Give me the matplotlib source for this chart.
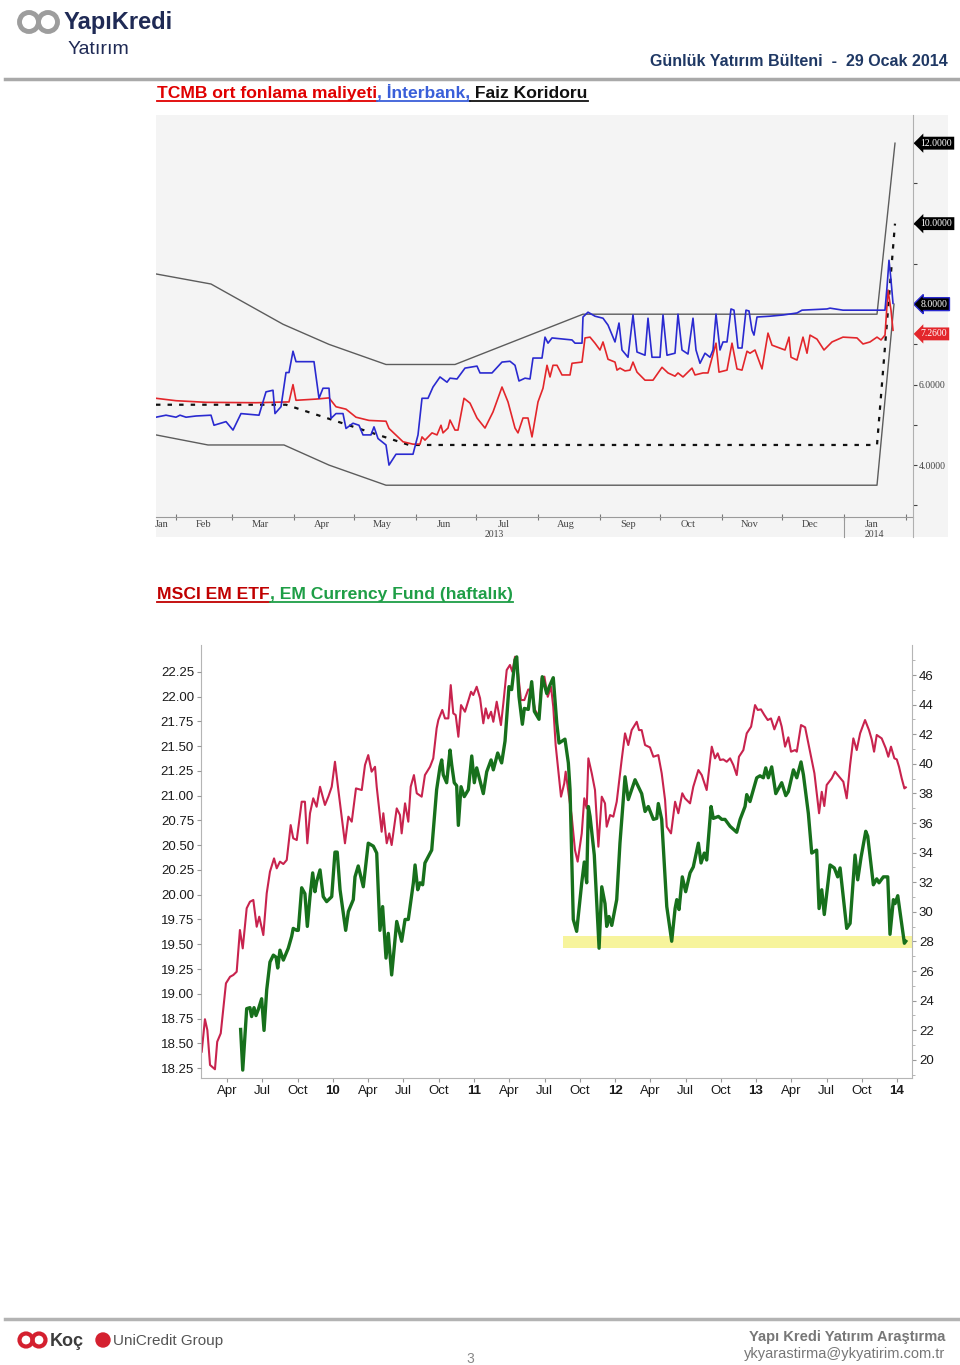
import numpy as np
import matplotlib
matplotlib.use("Agg")
import matplotlib.pyplot as plt
import matplotlib.dates as mdates
import matplotlib.transforms as mtransforms
from matplotlib import font_manager as fm
from matplotlib.lines import Line2D
from matplotlib.patches import Rectangle, Ellipse

plt.rcParams['font.family'] = ['Liberation Sans', 'DejaVu Sans']
_names = {f.name for f in fm.fontManager.ttflist}
NARROW = 'Liberation Sans Narrow' if 'Liberation Sans Narrow' in _names else 'Liberation Sans'

# ---------- top chart: TCMB rates, x = days since 1 Jan 2013, values in %
corr_hi_day = [21, 48.5, 84.5, 107.5, 136, 170.5, 234.5, 381.5, 390.5]
corr_hi = [8.75, 8.50, 7.50, 7.00, 6.50, 6.50, 7.75, 7.75, 12.00]
corr_lo_day = [21, 47, 85, 107.5, 136, 381.5, 390]
corr_lo = [4.75, 4.50, 4.50, 4.00, 3.50, 3.50, 8.00]
repo_day = [21, 86, 147.5, 381.5, 390.5]
repo = [5.50, 5.50, 4.50, 4.50, 10.00]

fund_day = [21, 31, 46, 71, 87.5, 89.5, 91, 101, 107.5, 111, 116, 121, 127.5, 136, 137.5,
            144.5, 149.5, 153, 154, 155.5, 159, 161.5, 163.5, 164.5, 167, 168, 170.5, 172,
            175, 178, 181.5, 185.5, 189.5, 194, 197, 200.5, 202, 204.5, 207, 209, 212, 214.5,
            216.5, 218, 219.5, 221.5, 224, 228, 229, 234, 235.5, 238, 240.5, 243, 244.5, 247,
            250.5, 251.5, 253, 255.5, 258, 259.5, 261.5, 265.5, 269.5, 274, 277, 280.5, 282,
            284.5, 289, 290.5, 294.5, 297, 301, 302.5, 306.5, 309, 311.5, 314, 316.5, 318,
            320.5, 324, 327, 329, 335.5, 337.5, 338.5, 341.5, 344.5, 346.5, 348, 351.5, 355,
            359, 364.5, 371.5, 374.5, 378, 381.5, 383.5, 385.5, 387, 388.5, 389.5]
fund = [5.66, 5.60, 5.56, 5.55, 5.57, 6.00, 5.61, 5.64, 5.67, 5.45, 5.39, 5.19, 5.11, 5.09, 4.91,
        4.58, 4.52, 4.52, 4.70, 4.62, 4.80, 4.75, 4.99, 4.80, 4.92, 5.12, 4.87, 4.87,
        5.66, 5.54, 5.17, 4.92, 5.32, 5.94, 5.57, 4.92, 4.80, 5.17, 5.17, 4.70, 5.57, 5.91,
        6.48, 6.19, 6.48, 6.48, 6.24, 6.24, 6.53, 6.56, 7.16, 7.18, 7.03, 6.86, 7.06, 6.63,
        6.56, 6.36, 6.41, 6.34, 6.36, 6.56, 6.31, 6.11, 6.11, 6.43, 6.29, 6.21, 6.29,
        6.19, 6.41, 6.24, 6.29, 6.29, 7.03, 6.31, 6.36, 7.03, 6.39, 6.36, 6.83, 6.78,
        6.86, 6.39, 7.28, 6.98, 6.86, 7.18, 6.68, 6.61, 7.18, 6.78, 7.23, 7.13, 6.86,
        7.06, 7.18, 7.16, 7.01, 7.06, 7.18, 7.11, 7.23, 8.35, 7.85, 7.35]

ib_day = [21, 26, 31, 33, 36, 41, 48.5, 50, 56, 59.5, 63.5, 72.5, 76, 79.5, 80.5, 83.5, 86, 87.5,
          89.5, 91, 100, 102.5, 104.5, 107.5, 108.5, 111, 114.5, 116, 119.5, 122.5, 124.5, 128.5,
          130, 132, 136, 137.5, 141, 149.5, 152, 154, 157, 159.5, 163, 166.5, 168, 171.5, 175.5,
          181.5, 183, 189, 194, 198, 200.5, 202.5, 205.5, 208, 209.5, 214, 215.5, 217, 219, 229,
          230.5, 234, 234.5, 237, 240.5, 244.5, 247, 250.5, 252.5, 254, 257, 259.5, 261.5, 265.5,
          267, 269, 273, 274.5, 276.5, 280.5, 282, 284, 287, 289.5, 291, 293, 295.5, 298, 299.5,
          301, 303, 304.5, 306.5, 308.5, 310, 312, 314, 316, 317.5, 319, 320, 321.5, 328, 334.5,
          341.5, 344, 356.5, 358, 364.5, 381.5, 385.5, 386.5, 387.5, 388.5, 389.5]
ib = [5.19, 5.24, 5.19, 5.24, 5.19, 5.22, 5.24, 4.99, 5.08, 4.87, 5.28, 5.24, 5.82, 5.86, 5.28,
      5.45, 6.30, 6.30, 6.83, 6.57, 6.57, 5.66, 5.91, 5.91, 5.16, 5.28, 5.28, 4.91, 5.04, 4.99,
      4.75, 4.75, 4.95, 4.66, 4.50, 4.00, 4.27, 4.27, 4.75, 5.66, 5.66, 5.94, 6.19, 6.06, 6.16,
      6.14, 6.41, 6.46, 6.29, 6.29, 6.56, 6.58, 6.48, 6.09, 6.16, 6.14, 6.66, 6.66, 7.18, 7.03,
      7.16, 7.11, 7.03, 7.03, 7.68, 7.80, 7.70, 7.65, 7.48, 7.06, 7.53, 6.86, 6.68, 7.73, 6.81,
      6.73, 7.65, 6.68, 6.68, 7.73, 6.73, 6.78, 7.75, 6.86, 6.76, 7.65, 6.86, 6.53, 6.78, 6.68,
      6.86, 7.75, 6.86, 7.06, 7.06, 7.88, 7.85, 6.91, 6.91, 7.85, 7.83, 7.35, 7.23, 7.68, 7.70,
      7.73, 7.78, 7.85, 7.88, 7.90, 7.85, 7.85, 7.85, 8.42, 9.09, 8.60, 8.02]

tag_values = [12.0, 10.0, 8.0, 7.26]
tag_colors = ['black', 'black', 'black', '#e3262b']
month_labels = ['Jan', 'Feb', 'Mar', 'Apr', 'May', 'Jun', 'Jul', 'Aug', 'Sep', 'Oct', 'Nov', 'Dec', 'Jan']

# ---------- bottom chart: weekly closes, x = decimal year
eem_t = [2009.069, 2009.092, 2009.109, 2009.128, 2009.163, 2009.179, 2009.204, 2009.241, 2009.270, 2009.293,
         2009.317, 2009.340, 2009.360, 2009.388, 2009.411, 2009.435, 2009.459, 2009.477, 2009.506, 2009.530,
         2009.553, 2009.582, 2009.601, 2009.624, 2009.648, 2009.672, 2009.700, 2009.718, 2009.743, 2009.778,
         2009.801, 2009.818, 2009.837, 2009.860, 2009.884, 2009.908, 2009.943, 2009.967, 2009.991, 2010.014,
         2010.038, 2010.069, 2010.085, 2010.109, 2010.133, 2010.163, 2010.204, 2010.227, 2010.250, 2010.274,
         2010.298, 2010.310, 2010.345, 2010.357, 2010.381, 2010.399, 2010.416, 2010.452, 2010.475, 2010.487,
         2010.511, 2010.534, 2010.551, 2010.574, 2010.594, 2010.629, 2010.652, 2010.688, 2010.711, 2010.735,
         2010.747, 2010.775, 2010.794, 2010.818, 2010.835, 2010.853, 2010.870, 2010.889, 2010.908, 2010.936,
         2010.979, 2010.995, 2011.019, 2011.043, 2011.066, 2011.083, 2011.101, 2011.121, 2011.137, 2011.161,
         2011.191, 2011.208, 2011.232, 2011.255, 2011.272, 2011.291, 2011.310, 2011.333, 2011.357, 2011.385,
         2011.409, 2011.433, 2011.461, 2011.480, 2011.499, 2011.523, 2011.546, 2011.562, 2011.579, 2011.617,
         2011.640, 2011.650, 2011.669, 2011.693, 2011.716, 2011.735, 2011.764, 2011.782, 2011.799, 2011.811,
         2011.835, 2011.858, 2011.882, 2011.906, 2011.929, 2011.941, 2011.965, 2011.988, 2012.012, 2012.047,
         2012.071, 2012.094, 2012.118, 2012.154, 2012.170, 2012.189, 2012.213, 2012.248, 2012.272, 2012.307,
         2012.331, 2012.355, 2012.367, 2012.397, 2012.426,
         2012.449, 2012.477, 2012.496, 2012.532, 2012.555, 2012.591, 2012.615, 2012.650, 2012.686, 2012.709,
         2012.728, 2012.745, 2012.768, 2012.792, 2012.816, 2012.839, 2012.863, 2012.879, 2012.910, 2012.934,
         2012.965, 2012.993, 2013.012, 2013.035, 2013.059, 2013.083, 2013.106, 2013.130, 2013.163, 2013.182,
         2013.206, 2013.229, 2013.248, 2013.277, 2013.289, 2013.319, 2013.348, 2013.371, 2013.414, 2013.447,
         2013.466, 2013.484, 2013.501, 2013.537, 2013.560, 2013.589, 2013.619, 2013.643, 2013.667, 2013.690,
         2013.714, 2013.738, 2013.773, 2013.801, 2013.820, 2013.837, 2013.856, 2013.891, 2013.920, 2013.938,
         2013.957, 2013.981, 2013.998, 2014.014, 2014.033, 2014.052, 2014.062]
eem = [20.55, 22.74, 22.01, 19.65, 19.36, 21.22, 21.79, 25.17, 25.61, 25.73,
       25.95, 28.77, 27.53, 30.24, 30.68, 30.80, 28.99, 29.67, 28.43, 31.25,
       32.71, 33.61, 32.94, 33.39, 33.23, 33.50, 35.86, 34.97, 34.85, 37.44,
       37.44, 34.63, 36.66, 37.67, 37.10, 38.45, 37.22, 37.78, 38.45, 40.14,
       38.23, 35.86, 34.63, 36.43, 36.09, 38.34, 38.23, 39.92, 40.59, 39.47,
       39.80, 38.45, 35.41, 36.66, 34.63, 35.30, 34.51, 36.99, 36.54, 35.30,
       37.33, 36.09, 38.45, 39.24, 38.01, 37.78, 39.24, 39.80, 40.37, 42.40,
       42.96, 43.64, 43.07, 43.07, 45.32, 43.41, 43.30, 41.83, 43.97, 43.52,
       44.87, 44.65, 45.21, 44.43, 42.74, 43.75, 43.07, 43.52, 42.84, 44.20,
       42.62, 44.09, 46.34, 46.68, 46.22, 47.24, 46.34, 44.31, 44.31, 45.03,
       44.87, 43.64, 43.18, 45.78, 45.89, 44.53, 45.21, 43.86, 41.27, 37.78,
       38.68, 39.47, 38.11, 36.43, 34.18, 33.39, 35.30, 37.67, 36.99, 40.37,
       39.36, 38.23, 34.40, 37.78, 37.33, 35.75, 36.54, 36.43, 37.44, 40.26,
       42.06, 41.27, 42.28, 42.84, 42.28, 42.28, 41.27, 41.11, 40.48, 40.59,
       39.36, 37.55, 35.75, 35.30, 37.44,
       36.66, 38.01, 37.67, 37.33, 38.45, 39.58, 39.24, 38.23, 41.16, 40.37,
       40.71, 40.26, 40.30, 40.14, 40.37, 39.92, 39.24, 40.48, 40.93, 42.06,
       42.51, 43.97, 43.64, 43.68, 43.30, 42.96, 43.07, 42.33, 43.18, 42.51,
       41.16, 41.79, 40.82, 40.93, 40.82, 42.62, 42.47, 41.39, 39.36, 36.66,
       38.11, 37.15, 38.57, 39.02, 39.47, 39.13, 38.79, 37.67, 39.92, 41.72,
       40.93, 42.06, 42.96, 42.28, 41.66, 40.82, 41.95, 41.72, 41.05, 40.48,
       41.16, 40.37, 40.30, 39.80, 39.02, 38.34, 38.41]

cew_t = [2009.345, 2009.360, 2009.388, 2009.411, 2009.423, 2009.440, 2009.454, 2009.470, 2009.494, 2009.511,
         2009.530, 2009.553, 2009.577, 2009.596, 2009.608, 2009.624, 2009.648, 2009.683, 2009.707, 2009.718,
         2009.743, 2009.754, 2009.778, 2009.801, 2009.818, 2009.837, 2009.856, 2009.872, 2009.884, 2009.908,
         2009.931, 2009.955, 2009.991, 2010.014, 2010.030, 2010.050, 2010.090, 2010.109, 2010.144, 2010.156,
         2010.179, 2010.215, 2010.250, 2010.286, 2010.310, 2010.333, 2010.352, 2010.376, 2010.392, 2010.416,
         2010.452, 2010.487, 2010.511, 2010.534, 2010.570, 2010.582, 2010.601, 2010.617, 2010.636, 2010.652,
         2010.700, 2010.735, 2010.759,
         2010.771, 2010.782, 2010.806, 2010.830, 2010.842, 2010.860, 2010.877, 2010.889, 2010.908, 2010.931,
         2010.960, 2010.984, 2011.002, 2011.019, 2011.066, 2011.090, 2011.121, 2011.137, 2011.168, 2011.196,
         2011.220, 2011.248, 2011.267, 2011.291, 2011.303, 2011.319, 2011.343, 2011.357, 2011.385, 2011.409,
         2011.428, 2011.461, 2011.484, 2011.516, 2011.534, 2011.562, 2011.587, 2011.603, 2011.645, 2011.669,
         2011.681, 2011.704, 2011.728, 2011.764, 2011.782, 2011.799, 2011.811, 2011.823, 2011.853, 2011.887,
         2011.906, 2011.929, 2011.941, 2011.957, 2011.977, 2012.012, 2012.035, 2012.071, 2012.094, 2012.142,
         2012.189, 2012.213, 2012.236, 2012.272, 2012.296, 2012.307, 2012.331, 2012.367, 2012.402, 2012.426,
         2012.438, 2012.454, 2012.477, 2012.501, 2012.532, 2012.555, 2012.591, 2012.610, 2012.633, 2012.650,
         2012.681, 2012.697, 2012.733, 2012.757, 2012.780, 2012.816, 2012.863, 2012.887, 2012.922, 2012.934,
         2012.957, 2013.005, 2013.028, 2013.052, 2013.069, 2013.087, 2013.111, 2013.140, 2013.182, 2013.211,
         2013.229, 2013.265, 2013.289, 2013.319, 2013.336, 2013.371, 2013.395, 2013.430, 2013.447, 2013.466,
         2013.484, 2013.525, 2013.555, 2013.579, 2013.596, 2013.643, 2013.667, 2013.702, 2013.721, 2013.745,
         2013.778, 2013.792, 2013.832, 2013.856, 2013.872, 2013.903, 2013.934, 2013.950, 2013.974, 2013.986,
         2014.005, 2014.052, 2014.062]
cew = [18.64, 18.23, 18.85, 18.86, 18.77, 18.86, 18.78, 18.84, 18.95, 18.63,
       19.04, 19.32, 19.39, 19.37, 19.26, 19.44, 19.34, 19.46, 19.58, 19.66,
       19.64, 19.64, 20.07, 20.01, 19.68, 19.98, 20.22, 20.03, 20.13, 20.25,
       19.98, 19.93, 19.98, 20.43, 20.43, 20.05, 19.64, 19.83, 19.95, 20.18,
       20.29, 20.08, 20.52, 20.49, 20.42, 19.64, 19.88, 19.36, 19.61, 19.19,
       19.73, 19.53, 19.75, 19.75, 20.12, 20.30, 20.05, 20.12, 20.10, 20.32,
       20.45, 21.06, 21.29,
       21.36, 21.21, 21.13, 21.46, 21.31, 21.13, 21.10, 20.70, 21.09, 20.99,
       21.06, 21.40, 21.13, 21.28, 21.02, 21.24, 21.36, 21.26, 21.43, 21.33,
       21.55, 22.10, 22.07, 22.37, 22.40, 22.00, 21.72, 21.88, 21.87, 22.15,
       21.85, 21.77, 22.20, 22.03, 22.10, 22.19, 21.73, 21.53, 21.57, 21.33,
       21.06, 19.75, 19.63, 20.12, 20.33, 20.12, 20.89, 20.79, 20.40, 19.46,
       20.08, 19.91, 19.68, 19.78, 19.69, 19.95, 20.52, 21.19, 20.96, 21.16,
       21.02, 20.84, 20.89, 20.76, 20.77, 20.92, 20.76, 19.88, 19.53, 19.86,
       19.95, 19.85, 20.18, 20.03, 20.22, 20.28, 20.52, 20.32, 20.42, 20.35,
       20.89, 20.77, 20.79, 20.76, 20.76, 20.69, 20.63, 20.76, 20.89, 21.01,
       20.94, 21.18, 21.20, 21.18, 21.28, 21.18, 21.29, 21.02, 21.13, 21.00,
       21.04, 21.26, 21.18, 21.34, 21.21, 20.82, 20.42, 20.45, 19.86, 20.05,
       19.80, 20.30, 20.27, 20.18, 20.27, 19.66, 19.71, 20.40, 20.15, 20.38,
       20.64, 20.59, 20.10, 20.16, 20.12, 20.18, 20.18, 19.60, 19.95, 19.91,
       19.99, 19.51, 19.53]

band_start = 2011.63          # support band on the EEM axis
band_lo, band_hi = 27.55, 28.36

W, H = 960, 1365
fig = plt.figure(figsize=(W / 100, H / 100), dpi=100)


def fx(x):
    return x / W


def fy(y):
    return 1 - y / H


def hline(x0, x1, y, color, lw):
    fig.add_artist(Line2D([fx(x0), fx(x1)], [fy(y), fy(y)], color=color, lw=lw))


def ring(x, y, d, color, lw=3, fill=False):
    fig.add_artist(Ellipse((fx(x), fy(y)), d / W, d / H, fill=fill, ec=color,
                           fc=color if fill else 'none', lw=lw))


def title_parts(x, y, parts, size=12.6):
    rend = fig.canvas.get_renderer()
    for text, color in parts:
        t = fig.text(fx(x), fy(y), text, color=color, fontsize=size,
                     fontweight='bold', ha='left', va='baseline')
        bb = t.get_window_extent(renderer=rend)
        hline(x, bb.x1, y + 3, color, 1.3)
        x = bb.x1


# header
ring(29, 22, 19, '#9d9d9d', 3.5)
ring(48, 22, 19, '#9d9d9d', 3.5)
fig.text(fx(64), fy(22), 'YapıKredi', fontsize=17, fontweight='bold', color='#1f2a55',
         va='center', family=NARROW)
fig.text(fx(68), fy(50), 'Yatırım', fontsize=14, color='#1f2a55', va='center', family=NARROW)
fig.text(fx(948), fy(62), 'Günlük Yatırım Bülteni  -  29 Ocak 2014', ha='right', va='center',
         fontsize=11.5, fontweight='bold', color='#1f3864', family=NARROW)
hline(5, 958, 79, '#a9a9a9', 2.5)

title_parts(157, 98, [('TCMB ort fonlama maliyeti', '#e00000'),
                      (', İnterbank,', '#3a5fd9'),
                      (' Faiz Koridoru', '#111111')])

# ---------------- top chart
fig.add_artist(Rectangle((fx(156), fy(537)), (948 - 156) / W, (537 - 115) / H,
                         transform=fig.transFigure, fc='#f4f4f4', ec='none', zorder=-1))
ax1 = fig.add_axes([fx(156), fy(517), (913 - 156) / W, (517 - 115) / H])
ax1.set_facecolor('none')

base = np.datetime64('2013-01-01T00:00')


def to_date(days):
    return base + np.round(np.asarray(days, float) * 1440).astype('timedelta64[m]')


ax1.plot(to_date(corr_hi_day), corr_hi, color='#5c5c5c', lw=1.0)
ax1.plot(to_date(corr_lo_day), corr_lo, color='#5c5c5c', lw=1.0)
ax1.plot(to_date(repo_day), repo, color='#111111', lw=1.6, ls=(0, (2, 3.2)))
ax1.plot(to_date(fund_day), fund, color='#e3262b', lw=1.2)
ax1.plot(to_date(ib_day), ib, color='#2a2ad0', lw=1.2)

ax1.set_xlim(to_date([21, 399.5]))
ax1.set_ylim(2.71, 12.70)
for s in ('top', 'left', 'right'):
    ax1.spines[s].set_visible(False)
ax1.spines['bottom'].set_color('#9a9a9a')
ax1.spines['bottom'].set_linewidth(0.8)
fig.add_artist(Line2D([fx(913), fx(913)], [fy(115), fy(537)], color='#b0b0b0', lw=0.8))

ax1.yaxis.tick_right()
ax1.set_yticks(np.arange(3, 13))
ax1.set_yticklabels([f'{v:.4f}' if v in (4, 6) else '' for v in range(3, 13)])
ax1.tick_params(axis='y', direction='out', length=3, color='#444444', labelsize=7,
                labelcolor='#444444', pad=1)
for lab in ax1.get_yticklabels():
    lab.set_family('Liberation Serif')
for v, c in zip(tag_values, tag_colors):
    ax1.annotate(f'{v:.4f}', xy=(1, v), xycoords=('axes fraction', 'data'), xytext=(5.5, 0),
                 textcoords='offset points', ha='left', va='center', fontsize=7,
                 color='white', family='Liberation Serif', annotation_clip=False,
                 bbox=dict(boxstyle='larrow,pad=0.2', fc=c,
                           ec='#2a2ad0' if v == 8.0 else 'none', lw=1))

ax1.xaxis.set_major_locator(mdates.MonthLocator())
ax1.xaxis.set_major_formatter(plt.NullFormatter())
ax1.tick_params(axis='x', which='major', direction='inout', length=4, color='#777777')
months = np.arange(np.datetime64('2013-02'), np.datetime64('2014-02')).astype('datetime64[D]') + 14
label_pos = np.concatenate([[np.datetime64('2013-01-25')], months])
ax1.set_xticks(label_pos, minor=True)
ax1.set_xticklabels(month_labels, minor=True)
ax1.tick_params(axis='x', which='minor', length=0, labelsize=7.5, labelcolor='#444444', pad=2)
for lab in ax1.get_xticklabels(minor=True):
    lab.set_family('Liberation Serif')
blend = mtransforms.blended_transform_factory(ax1.transData, ax1.transAxes)
ax1.text(to_date(190), -0.043, '2013', transform=blend, ha='center', va='center',
         fontsize=7, color='#444444', family='Liberation Serif')
ax1.text(to_date(380), -0.043, '2014', transform=blend, ha='center', va='center',
         fontsize=7, color='#444444', family='Liberation Serif')
ax1.plot(to_date([365, 365]), [0, -0.05], transform=blend, clip_on=False,
         color='#999999', lw=0.8)

# ---------------- bottom chart
title_parts(157, 599, [('MSCI EM ETF', '#c00000'),
                       (', EM Currency Fund (haftalık)', '#1e9e46')])

axr = fig.add_axes([fx(201), fy(1078), (912 - 201) / W, (1078 - 645) / H])
axl = axr.twinx()
axl.yaxis.tick_left()
axr.yaxis.tick_right()

x0, x1 = 2009.064, 2014.106
axr.fill_between([band_start, x1], band_lo, band_hi, color='#f7f49c', lw=0, zorder=1)
axr.plot(eem_t, eem, color='#c8234e', lw=1.5, zorder=2)
axl.plot(cew_t, cew, color='#17701c', lw=2.4)

axr.set_xlim(x0, x1)
axr.set_ylim(18.77, 48.03)
axl.set_ylim(18.15, 22.52)

axr.set_yticks(np.arange(20, 47, 2))
axr.set_yticklabels([f'{v:d}' for v in range(20, 47, 2)])
axr.set_yticks(np.arange(19, 48, 1), minor=True)
axl.set_yticks(np.arange(18.25, 22.26, 0.25))
axl.set_yticklabels([f'{v:.2f}' for v in np.arange(18.25, 22.26, 0.25)])

quarters = np.arange(2009.25, 2014.01, 0.25)
qlabels = []
for q in quarters:
    frac = round(q % 1, 2)
    qlabels.append({0.0: f'{int(round(q)) % 100:02d}', 0.25: 'Apr', 0.5: 'Jul', 0.75: 'Oct'}[frac])
axr.set_xticks(quarters)
axr.set_xticklabels(qlabels)
for lab in axr.get_xticklabels():
    if lab.get_text().isdigit():
        lab.set_fontweight('bold')
        lab.set_fontsize(10.5)

for a in (axr, axl):
    a.tick_params(axis='both', which='major', length=3, color='#999999', labelsize=9.5,
                  labelcolor='#1a1a1a', pad=2)
    a.tick_params(axis='y', which='minor', length=2, color='#aaaaaa')
    for s in a.spines.values():
        s.set_visible(False)
for s in ('left', 'right', 'bottom'):
    axr.spines[s].set_visible(True)
    axr.spines[s].set_color('#b5b5b5')

# footer
hline(5, 958, 1319, '#b3b3b3', 2.5)
ring(26, 1340, 13, '#d4202f', 3)
ring(39, 1340, 13, '#d4202f', 3)
fig.text(fx(50), fy(1341), 'Koç', fontsize=13, fontweight='bold', color='#3c3c3c', va='center',
         family=NARROW)
ring(103, 1340, 14, '#d4202f', 1, fill=True)
fig.text(fx(113), fy(1341), 'UniCredit Group', fontsize=11, color='#555555', va='center',
         family=NARROW)
fig.text(fx(470), fy(1359), '3', fontsize=10, color='#888888', ha='center', va='center')
fig.text(fx(945), fy(1337), 'Yapı Kredi Yatırım Araştırma', fontsize=10.5, fontweight='bold',
         color='#777777', ha='right', va='center', family=NARROW)
fig.text(fx(945), fy(1354), 'ykyarastirma@ykyatirim.com.tr', fontsize=10.5, color='#777777',
         ha='right', va='center', family=NARROW)

fig.savefig('out.png', dpi=100)
